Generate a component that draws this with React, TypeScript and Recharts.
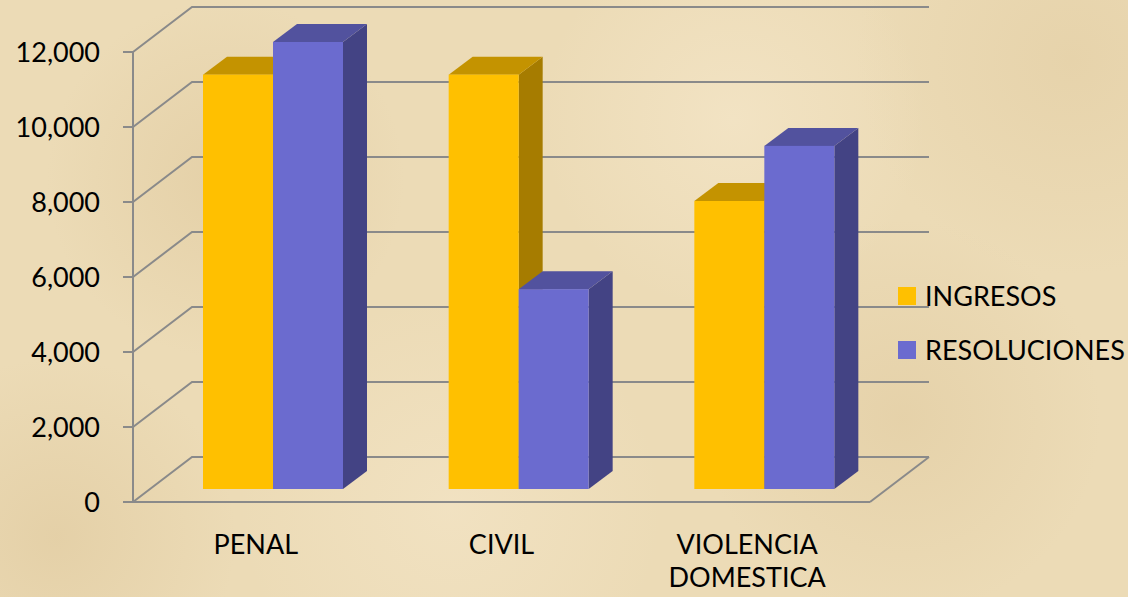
import React from 'react'
import { BarChart, Bar, XAxis, YAxis, CartesianGrid, Legend } from 'recharts'

const categories = ['PENAL', 'CIVIL', 'VIOLENCIA DOMESTICA']
const ingresos = [11050, 11050, 7680]
const resoluciones = [11920, 5330, 9150]
const yTicks = [0, 2000, 4000, 6000, 8000, 10000, 12000]
const seriesNames = ['INGRESOS', 'RESOLUCIONES']

const W = 1128
const H = 597
const FONT = 'Lato, "Open Sans", sans-serif'
const GRID = '#8a8a8a'

// 3d look: back wall offset and bar placement inside the depth
const WALL_DX = 59
const WALL_DY = 45
const BAR_SHIFT_X = 17
const BAR_SHIFT_Y = 13
const BAR_DX = 24
const BAR_DY = 18

const colors = {
  INGRESOS: { front: '#FFC000', top: '#C49300', side: '#A67C00' },
  RESOLUCIONES: { front: '#6B6BCF', top: '#52529E', side: '#434384' },
}

const data = categories.map((c, i) => ({ name: c, INGRESOS: ingresos[i], RESOLUCIONES: resoluciones[i] }))

const margin = { top: 52, right: 258, bottom: 0, left: 0 }
const X_AXIS_H = 95
const plotBottom = H - margin.bottom - X_AXIS_H

const makeBox = (c: { front: string; top: string; side: string }) => (props: any) => {
  const { x, y, width, height } = props
  if (width == null || height == null) return <g />
  const fx = x + BAR_SHIFT_X
  const fy = y - BAR_SHIFT_Y
  const top = `${fx},${fy} ${fx + BAR_DX},${fy - BAR_DY} ${fx + width + BAR_DX},${fy - BAR_DY} ${fx + width},${fy}`
  const side = `${fx + width},${fy} ${fx + width + BAR_DX},${fy - BAR_DY} ${fx + width + BAR_DX},${fy + height - BAR_DY} ${fx + width},${fy + height}`
  return (
    <g>
      <polygon points={side} fill={c.side} />
      <polygon points={top} fill={c.top} />
      <rect x={fx} y={fy} width={width} height={height} fill={c.front} />
    </g>
  )
}

const gridLine = (props: any) => {
  const { x1, x2, y1, key } = props
  const pts = `${x1},${y1} ${x1 + WALL_DX},${y1 - WALL_DY} ${x2 + WALL_DX},${y1 - WALL_DY}`
  const isFloor = Math.abs(y1 - plotBottom) < 1
  return (
    <g key={key}>
      <polyline points={pts} fill="none" stroke={GRID} strokeWidth={2} />
      {isFloor && <line x1={x2} y1={y1} x2={x2 + WALL_DX} y2={y1 - WALL_DY} stroke={GRID} strokeWidth={2} />}
    </g>
  )
}

const XTick = (props: any) => {
  const { x, y, payload } = props
  const words = String(payload.value).split(' ')
  return (
    <text x={x} y={y} textAnchor="middle" fill="#000" fontSize={27} fontFamily={FONT}>
      {words.map((w, i) => (
        <tspan key={i} x={x} dy={i === 0 ? 52 : 33}>
          {w}
        </tspan>
      ))}
    </text>
  )
}

const LegendBox = () => (
  <div style={{ fontFamily: FONT, fontSize: 27, color: '#000', lineHeight: '54px' }}>
    {seriesNames.map((n) => (
      <div key={n} style={{ display: 'flex', alignItems: 'center', height: 54 }}>
        <span style={{ display: 'inline-block', width: 18, height: 18, background: (colors as any)[n].front, marginRight: 9 }} />
        <span>{n}</span>
      </div>
    ))}
  </div>
)

export default function App() {
  return (
    <div
      style={{
        position: 'fixed',
        left: 0,
        top: 0,
        width: W,
        height: H,
        backgroundColor: '#ecdbb6',
        backgroundImage:
          'radial-gradient(circle at 20% 30%, rgba(214,188,140,0.35), transparent 18%),' +
          'radial-gradient(circle at 65% 20%, rgba(246,232,204,0.6), transparent 22%),' +
          'radial-gradient(circle at 80% 70%, rgba(214,188,140,0.3), transparent 20%),' +
          'radial-gradient(circle at 40% 85%, rgba(246,232,204,0.5), transparent 25%),' +
          'radial-gradient(circle at 5% 90%, rgba(214,188,140,0.35), transparent 15%),' +
          'radial-gradient(circle at 95% 10%, rgba(220,196,150,0.35), transparent 18%)',
      }}
    >
      <BarChart width={W} height={H} data={data} margin={margin} barCategoryGap={53} barGap={0}>
        <CartesianGrid vertical={false} horizontal={gridLine} />
        <YAxis
          width={133}
          domain={[0, 12000]}
          ticks={yTicks}
          interval={0}
          tickFormatter={(v: number) => v.toLocaleString('en-US')}
          tick={{ fill: '#000', fontSize: 27, fontFamily: FONT }}
          tickSize={10}
          tickMargin={23}
          axisLine={{ stroke: GRID, strokeWidth: 2 }}
          tickLine={{ stroke: GRID, strokeWidth: 2 }}
        />
        <XAxis
          dataKey="name"
          height={X_AXIS_H}
          interval={0}
          tick={<XTick />}
          tickSize={0}
          tickMargin={0}
          tickLine={false}
          axisLine={{ stroke: GRID, strokeWidth: 2 }}
        />
        <Legend
          layout="vertical"
          align="center"
          verticalAlign="middle"
          content={<LegendBox />}
          wrapperStyle={{ left: 898, top: 269, width: 230, height: 108 }}
        />
        <Bar dataKey="INGRESOS" fill={colors.INGRESOS.front} shape={makeBox(colors.INGRESOS)} isAnimationActive={false} />
        <Bar dataKey="RESOLUCIONES" fill={colors.RESOLUCIONES.front} shape={makeBox(colors.RESOLUCIONES)} isAnimationActive={false} />
      </BarChart>
    </div>
  )
}
